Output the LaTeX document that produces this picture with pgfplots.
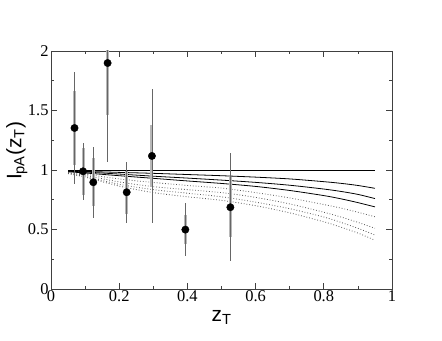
\documentclass[border=0pt]{standalone}
\usepackage{fontspec}
\setmainfont{Liberation Serif}
\newfontfamily\hv{Liberation Sans}
\newfontfamily\tm{Liberation Serif}
\usepackage{pgfplots}
\pgfplotsset{compat=1.18}

\begin{document}
\begin{tikzpicture}
\begin{axis}[
    scale only axis,
    width=341bp, height=238bp,
    xmin=0, xmax=1, ymin=0, ymax=2,
    xtick={0,0.2,0.4,0.6,0.8,1}, ytick={0,0.5,1,1.5,2},
    minor x tick num=1, minor y tick num=1,
    tick align=inside,
    major tick length=6bp, minor tick length=3bp,
    axis line style={black!75, line width=0.9pt},
    every tick/.style={black!75, line width=0.7pt},
    tick label style={font=\tm\fontsize{16.5}{18}\selectfont},
    /pgf/number format/assume math mode=true,
    xticklabel style={yshift=2bp},
    yticklabel style={xshift=1bp},
    xlabel={\hv z\textsubscript{T}},
    ylabel={\hv I\textsubscript{pA}(z\textsubscript{T})},
    label style={font=\fontsize{21}{24}\selectfont},
    xlabel style={yshift=-2bp},
    ylabel style={at={(rel axis cs:0,0.58)}, yshift=20bp},
]
% flat and solid model curves
\addplot[black, line width=0.8pt] coordinates {(0.05,1.0) (0.95,1.0)};
\addplot[black, line width=0.8pt, smooth] coordinates {
  (0.05,0.99) (0.1,0.988) (0.2,0.98) (0.3,0.972) (0.4,0.962) (0.5,0.952)
  (0.6,0.94) (0.7,0.925) (0.8,0.902) (0.85,0.888) (0.9,0.87) (0.95,0.846)};
\addplot[black, line width=0.8pt, smooth] coordinates {
  (0.05,0.99) (0.1,0.983) (0.2,0.966) (0.3,0.948) (0.4,0.932) (0.5,0.915)
  (0.6,0.896) (0.7,0.872) (0.8,0.84) (0.85,0.82) (0.9,0.795) (0.95,0.76)};
\addplot[black, line width=0.8pt, smooth] coordinates {
  (0.05,0.985) (0.1,0.975) (0.2,0.952) (0.3,0.93) (0.4,0.908) (0.5,0.887)
  (0.6,0.862) (0.7,0.828) (0.8,0.785) (0.85,0.758) (0.9,0.726) (0.95,0.69)};
% dotted model curves
\addplot[black!65, line width=0.8pt, dotted, smooth] coordinates {
  (0.05,0.98) (0.1,0.965) (0.2,0.925) (0.3,0.895) (0.4,0.87) (0.5,0.848)
  (0.6,0.81) (0.7,0.765) (0.8,0.71) (0.85,0.68) (0.9,0.645) (0.95,0.607)};
\addplot[black!65, line width=0.8pt, dotted, smooth] coordinates {
  (0.05,0.975) (0.1,0.955) (0.2,0.9) (0.3,0.86) (0.4,0.835) (0.5,0.81)
  (0.6,0.77) (0.7,0.715) (0.8,0.645) (0.85,0.605) (0.9,0.56) (0.95,0.51)};
\addplot[black!65, line width=0.8pt, dotted, smooth] coordinates {
  (0.05,0.972) (0.1,0.945) (0.2,0.88) (0.3,0.835) (0.4,0.805) (0.5,0.775)
  (0.6,0.73) (0.7,0.675) (0.8,0.605) (0.85,0.56) (0.9,0.51) (0.95,0.454)};
\addplot[black!65, line width=0.8pt, dotted, smooth] coordinates {
  (0.05,0.97) (0.1,0.94) (0.2,0.865) (0.3,0.81) (0.4,0.775) (0.5,0.745)
  (0.6,0.70) (0.7,0.64) (0.8,0.565) (0.85,0.52) (0.9,0.47) (0.95,0.41)};
% systematic errors (thick gray)
\addplot[draw=none, mark=none,
  error bars/.cd, y dir=both, y explicit, error mark=none,
  error bar style={line width=3pt, black!28}]
  coordinates {
  (0.069,1.353) +- (0,0.31)
  (0.094,0.989) +- (0,0.20)
  (0.124,0.897) +- (0,0.20)
  (0.166,1.899) +- (0,0.44)
  (0.222,0.813) +- (0,0.18)
  (0.296,1.118) +- (0,0.26)
  (0.394,0.499) +- (0,0.125)
  (0.526,0.687) +- (0,0.25)};
% statistical errors and points
\addplot[only marks, mark=*, mark size=3.7bp, black,
  error bars/.cd, y dir=both, y explicit, error mark=none,
  error bar style={line width=0.8pt, black!60}]
  coordinates {
  (0.069,1.353) +- (0,0.47)
  (0.094,0.989) +- (0,0.24)
  (0.124,0.897) +- (0,0.30)
  (0.166,1.899) +- (0,0.83)
  (0.222,0.813) +- (0,0.255)
  (0.296,1.118) +- (0,0.56)
  (0.394,0.499) +- (0,0.22)
  (0.526,0.687) +- (0,0.455)};
\end{axis}
\pgfresetboundingbox
\path ([xshift=-51bp,yshift=-52bp]current axis.south west) rectangle ([xshift=50bp,yshift=51bp]current axis.north east);
\end{tikzpicture}
\end{document}
